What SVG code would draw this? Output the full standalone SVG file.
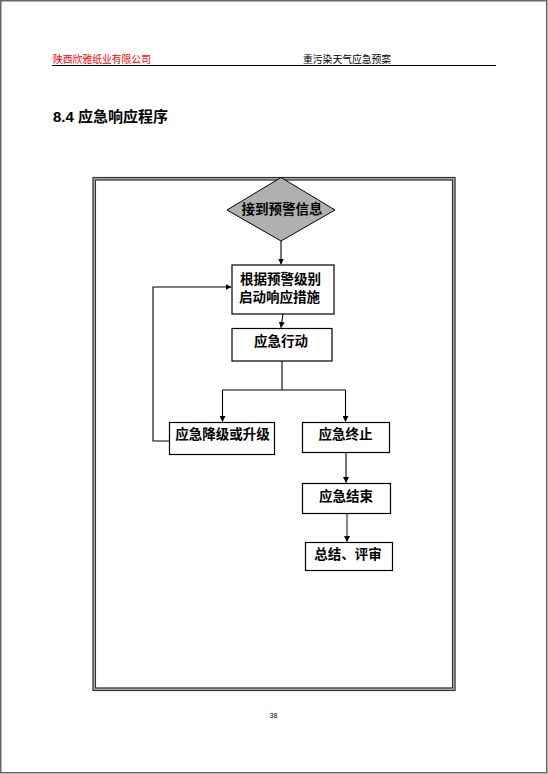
<svg xmlns="http://www.w3.org/2000/svg" width="548" height="774" viewBox="0 0 548 774">
<defs>
<marker id="ah" markerWidth="6" markerHeight="6" refX="5.5" refY="3" orient="auto" markerUnits="userSpaceOnUse">
<path d="M0,0 L6,3 L0,6 Z" fill="#000"/>
</marker>
<style>
.box{fill:#fff;stroke:#000;stroke-width:1.2}
.t{font-family:"Liberation Sans","Noto Sans CJK SC",sans-serif;font-weight:bold;font-size:13.5px;fill:#000}
.c{fill:none;stroke:#000;stroke-width:1.1}
</style>
</defs>
<rect x="0" y="0" width="548" height="774" fill="#fff"/>
<rect x="0.75" y="0.75" width="546" height="772" fill="none" stroke="#666" stroke-width="1.5"/>
<g id="header">
<text x="53" y="62.5" font-family="'Noto Sans CJK SC',sans-serif" font-size="9.8" fill="#ff0000">陕西欣雅纸业有限公司</text>
<text x="303" y="62.5" font-family="'Noto Sans CJK SC',sans-serif" font-size="9.8" fill="#000">重污染天气应急预案</text>
<line x1="52" y1="65.5" x2="496" y2="65.5" stroke="#000" stroke-width="1"/>
</g>
<text x="53" y="122" font-family="'Liberation Sans','Noto Sans CJK SC',sans-serif" font-weight="bold" font-size="15" fill="#000">8.4 应急响应程序</text>
<g id="frame">
<rect x="94.2" y="178.7" width="359.6" height="510.6" fill="none" stroke="#aaa" stroke-width="3.6"/>
<rect x="93" y="177.5" width="362" height="513" fill="none" stroke="#333" stroke-width="1.1"/>
<rect x="95.5" y="180" width="357" height="508" fill="none" stroke="#333" stroke-width="1.1"/>
</g>
<g id="connectors">
<line class="c" x1="281" y1="241" x2="281" y2="264" marker-end="url(#ah)"/>
<line class="c" x1="283" y1="314" x2="281" y2="327.5" marker-end="url(#ah)"/>
<polyline class="c" points="282,361 282,390"/>
<polyline class="c" points="222.5,390 345.5,390"/>
<line class="c" x1="222.5" y1="390" x2="222.5" y2="421.5" marker-end="url(#ah)"/>
<line class="c" x1="345.5" y1="390" x2="345.5" y2="421.5" marker-end="url(#ah)"/>
<polyline class="c" points="169,441 153,441 153,287 231,287" marker-end="url(#ah)"/>
<line class="c" x1="346" y1="452" x2="346" y2="482.5" marker-end="url(#ah)"/>
<line x1="347" y1="513.5" x2="347" y2="541.5" stroke="#888" stroke-width="2.2" marker-end="url(#ah)"/>
</g>
<g id="n1">
<polygon points="281,177.5 335,210 281,241 227,210" fill="#b0b0b0" stroke="#000" stroke-width="1"/>
<text class="t" x="282" y="214" text-anchor="middle">接到预警信息</text>
</g>
<g id="n2">
<rect class="box" x="232" y="265" width="102" height="49"/>
<text class="t" x="240" y="284">根据预警级别</text>
<text class="t" x="239" y="301.5">启动响应措施</text>
</g>
<g id="n3">
<rect class="box" x="232" y="328.5" width="100" height="32.5"/>
<text class="t" x="281" y="346" text-anchor="middle">应急行动</text>
</g>
<g id="n4">
<rect class="box" x="169.5" y="422.5" width="105" height="32"/>
<text class="t" x="222.5" y="439" text-anchor="middle">应急降级或升级</text>
</g>
<g id="n5">
<rect class="box" x="302.5" y="422.5" width="87" height="30"/>
<text class="t" x="345.5" y="439" text-anchor="middle">应急终止</text>
</g>
<g id="n6">
<rect class="box" x="302.5" y="483.5" width="88" height="30"/>
<text class="t" x="346" y="500.5" text-anchor="middle">应急结束</text>
</g>
<g id="n7">
<rect class="box" x="305.5" y="542.5" width="87" height="28"/>
<text class="t" x="348" y="559" text-anchor="middle">总结、评审</text>
</g>
<text x="273.5" y="718" font-family="'Liberation Sans',sans-serif" font-size="7" fill="#000" text-anchor="middle">38</text>
</svg>
